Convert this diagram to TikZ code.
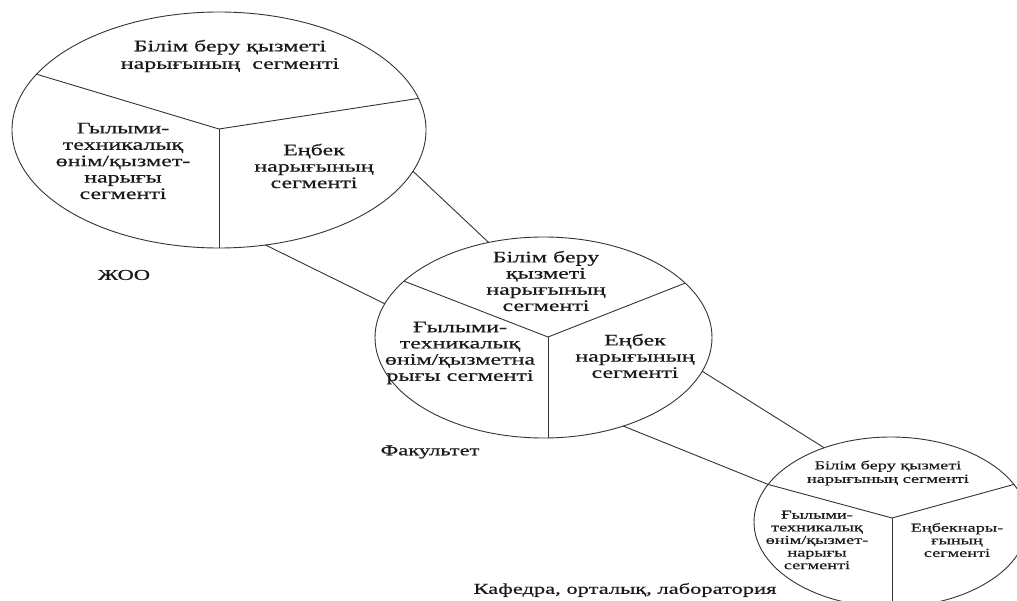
\documentclass[tikz,border=0pt]{standalone}
\usepackage{fontspec}
\setmainfont[FakeStretch=1.5,FakeBold=0.6]{Liberation Serif}
\newfontfamily\labelfont[FakeStretch=1.5,FakeBold=0.6]{Liberation Serif}
\usetikzlibrary{shapes.geometric}
\definecolor{linec}{HTML}{333333}
\definecolor{txtc}{HTML}{1A1A1A}
\begin{document}
\begin{tikzpicture}[x=1pt,y=-1pt,
  ell/.style={ellipse, draw=linec, line width=0.9pt, inner sep=0pt, outer sep=0pt},
  conn/.style={draw=linec, line width=0.9pt},
  tbase/.style={align=center, text=txtc, inner sep=0pt},
  tone/.style={tbase, font=\fontsize{16}{16.4}\selectfont},
  ttwo/.style={tbase, font=\fontsize{16}{16.2}\selectfont},
  tthree/.style={tbase, font=\fontsize{12.2}{12.6}\selectfont},
  tlabel/.style={tbase, font=\labelfont\fontsize{15}{16}\selectfont}]
\useasboundingbox (0,0) rectangle (1017,601);
\clip (0,0) rectangle (1017,601);
% ellipses
\node[ell, minimum width=414pt, minimum height=236pt] (e1) at (219,130) {};
\node[ell, minimum width=337pt, minimum height=201pt] (e2) at (543.5,337.5) {};
\node[ell, minimum width=274pt, minimum height=170pt] (e3) at (891,522) {};
% split points
\coordinate (s1) at (219,129);
\coordinate (s2) at (548,337);
\coordinate (s3) at (892,518);
% divisions
\draw[conn] (e1.163.2) -- (s1) -- (e1.9.5);
\draw[conn] (s1) -- (s1 |- e1.south);
\draw[conn] (e2.158.9) -- (s2) -- (e2.21.4);
\draw[conn] (s2) -- (s2 |- e2.south);
\draw[conn] (e3.163.4) -- (s3) -- (e3.17.2);
\draw[conn] (s3) -- (s3 |- e3.south);
% connectors
\draw[conn] (e1.-12.5) -- (e2.120);
\draw[conn] (e1.-68.5) -- (e2.168.8);
\draw[conn] (e2.-12.2) -- (e3.132.7);
\draw[conn] (e2.-48) -- (e3.163.4);
% texts ellipse 1
\node[tone, font=\fontsize{16}{17.5}\selectfont] (t1a) at (230,56) {Білім беру қызметі\\нарығының\ \ сегменті};
\node[tone] (t1b) at (123,161) {Гылыми-\\техникалық\\өнім/қызмет-\\нарығы\\сегменті};
\node[tone] (t1c) at (314,166) {Еңбек\\нарығының\\сегменті};
\node[tlabel] (l1) at (124,275) {ЖОО};
% texts ellipse 2
\node[ttwo] (t2a) at (546,281) {Білім беру\\қызметі\\нарығының\\сегменті};
\node[ttwo] (t2b) at (460,353) {Ғылыми-\\техникалық\\өнім/қызметна\\рығы сегменті};
\node[ttwo] (t2c) at (635,356) {Еңбек\\нарығының\\сегменті};
\node[tlabel] (l2) at (430,452) {Факультет};
% texts ellipse 3
\node[tthree, font=\fontsize{12.2}{13.5}\selectfont] (t3a) at (888,473) {Білім беру қызметі\\нарығының сегменті};
\node[tthree] (t3b) at (817,540) {Ғылыми-\\техникалық\\өнім/қызмет-\\нарығы\\сегменті};
\node[tthree] (t3c) at (957,540) {Еңбекнары-\\ғының\\сегменті};
\node[tlabel] (l3) at (625,590) {Кафедра, орталық, лаборатория};
\end{tikzpicture}
\end{document}
